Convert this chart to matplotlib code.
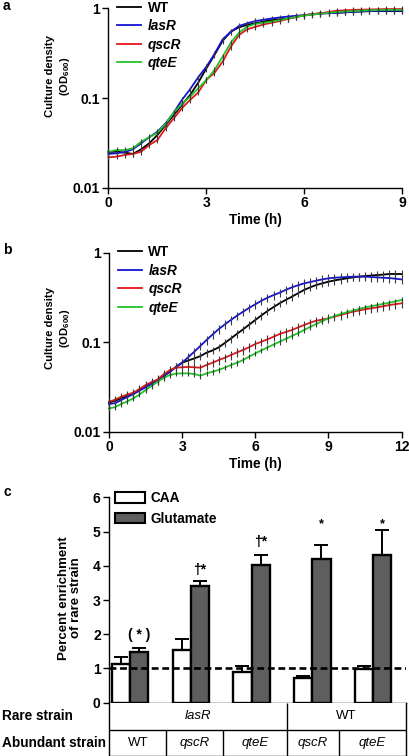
import numpy as np
import matplotlib
matplotlib.use("Agg")
import matplotlib.pyplot as plt
from matplotlib.lines import Line2D
from matplotlib.patches import Patch
from matplotlib.ticker import NullLocator

plt.rcParams["font.family"] = ["Liberation Sans", "DejaVu Sans"]
plt.rcParams["font.weight"] = "bold"
plt.rcParams["axes.labelweight"] = "bold"
plt.rcParams["mathtext.fontset"] = "custom"
plt.rcParams["mathtext.rm"] = "Liberation Sans"
plt.rcParams["mathtext.bf"] = "Liberation Sans:bold"

# ---------------- panel a: growth in CAA (every 15 min, 0-9 h) ----------------
t_a = np.arange(0, 9.01, 0.25)
a_WT = [0.0250, 0.0252, 0.0246, 0.0238, 0.0268, 0.0313, 0.0387, 0.050, 0.0646, 0.0836,
        0.108, 0.148, 0.214, 0.302, 0.435, 0.548, 0.614, 0.652, 0.68, 0.71, 0.74, 0.755,
        0.77, 0.80, 0.835, 0.86, 0.88, 0.885, 0.89, 0.905, 0.92, 0.925, 0.93, 0.93, 0.93,
        0.93, 0.93]
a_lasR = [0.0238, 0.0242, 0.0250, 0.0268, 0.0313, 0.0365, 0.0421, 0.0522, 0.0686, 0.095,
          0.125, 0.170, 0.223, 0.31, 0.45, 0.548, 0.635, 0.68, 0.72, 0.745, 0.77, 0.79,
          0.81, 0.825, 0.84, 0.855, 0.87, 0.88, 0.89, 0.90, 0.91, 0.92, 0.93, 0.935, 0.94,
          0.94, 0.94]
a_qscR = [0.0218, 0.0222, 0.0232, 0.0238, 0.0252, 0.0299, 0.0340, 0.0459, 0.0593, 0.0768,
          0.095, 0.115, 0.159, 0.191, 0.254, 0.373, 0.504, 0.583, 0.62, 0.66, 0.69, 0.72,
          0.76, 0.80, 0.835, 0.86, 0.88, 0.91, 0.94, 0.95, 0.96, 0.965, 0.97, 0.975, 0.98,
          0.98, 0.98]
a_qteE = [0.0252, 0.0263, 0.0263, 0.0275, 0.0326, 0.0365, 0.0410, 0.0513, 0.0686, 0.0857,
          0.103, 0.128, 0.159, 0.205, 0.289, 0.414, 0.535, 0.624, 0.67, 0.69, 0.71, 0.74,
          0.77, 0.80, 0.83, 0.85, 0.87, 0.89, 0.91, 0.92, 0.93, 0.94, 0.95, 0.955, 0.96,
          0.96, 0.96]
a_relerr = [0.08, 0.07, 0.07, 0.08]      # WT, lasR, qscR, qteE (fraction of OD)

# ---------------- panel b: growth in glutamate (every 15 min, 0-12 h) ----------------
t_b = np.arange(0, 12.01, 0.25)
b_WT = [0.0211, 0.0222, 0.0236, 0.025, 0.0264, 0.029, 0.0318, 0.0346, 0.0378, 0.042,
        0.0468, 0.053, 0.059, 0.0625, 0.0659, 0.070, 0.0763, 0.081, 0.0875, 0.098, 0.110,
        0.124, 0.139, 0.157, 0.177, 0.199, 0.223, 0.247, 0.272, 0.297, 0.322, 0.352, 0.383,
        0.41, 0.435, 0.455, 0.474, 0.49, 0.503, 0.517, 0.530, 0.54, 0.548, 0.556, 0.563,
        0.57, 0.578, 0.578, 0.578]
b_lasR = [0.0204, 0.0208, 0.0226, 0.0244, 0.0264, 0.0288, 0.0313, 0.0344, 0.0378, 0.042,
          0.0468, 0.053, 0.059, 0.068, 0.0783, 0.091, 0.1057, 0.122, 0.140, 0.158, 0.177,
          0.198, 0.219, 0.242, 0.265, 0.29, 0.314, 0.336, 0.357, 0.384, 0.410, 0.432, 0.454,
          0.47, 0.487, 0.503, 0.517, 0.525, 0.530, 0.535, 0.539, 0.54, 0.539, 0.535, 0.530,
          0.525, 0.521, 0.512, 0.503]
b_qscR = [0.0216, 0.0228, 0.0246, 0.026, 0.0273, 0.030, 0.0332, 0.036, 0.0384, 0.044,
          0.0489, 0.052, 0.0524, 0.053, 0.0524, 0.0519, 0.0556, 0.059, 0.0632, 0.067, 0.0719,
          0.077, 0.0818, 0.088, 0.0954, 0.101, 0.1076, 0.115, 0.1234, 0.13, 0.1367, 0.146,
          0.1555, 0.165, 0.174, 0.179, 0.1846, 0.193, 0.201, 0.21, 0.219, 0.226, 0.233, 0.239,
          0.245, 0.252, 0.260, 0.266, 0.272]
b_qteE = [0.0182, 0.0188, 0.0204, 0.0218, 0.0236, 0.026, 0.0292, 0.0325, 0.0362, 0.040,
          0.0430, 0.0445, 0.0449, 0.0448, 0.0441, 0.0422, 0.0449, 0.0468, 0.0489, 0.052,
          0.0556, 0.059, 0.0632, 0.069, 0.075, 0.081, 0.0875, 0.094, 0.1013, 0.109, 0.117,
          0.126, 0.1367, 0.148, 0.1596, 0.172, 0.1846, 0.196, 0.2064, 0.216, 0.225, 0.235,
          0.245, 0.252, 0.260, 0.268, 0.276, 0.286, 0.296]
b_relerr = [0.10, 0.11, 0.11, 0.07]

STRAINS = ["WT", "lasR", "qscR", "qteE"]
COLORS = ["black", "#1414d6", "#e3161c", "#22c426"]

# ---------------- panel c: competition enrichment ----------------
rare = ["lasR", "WT"]
rare_span = [3, 2]                      # how many pairings each rare strain covers
abundant = ["WT", "qscR", "qteE", "qscR", "qteE"]
caa = [1.14, 1.54, 0.91, 0.72, 0.98]
caa_err = [0.19, 0.31, 0.16, 0.07, 0.10]
glu = [1.49, 3.42, 4.01, 4.20, 4.30]
glu_err = [0.11, 0.14, 0.29, 0.42, 0.74]
marks = ["( * )", "†*", "†*", "*", "*"]
mark_y = [1.98, 3.88, 4.68, 5.22, 5.22]

W, H = 409, 756


def box(l, t, r, b):
    return [l / W, 1 - b / H, (r - l) / W, (b - t) / H]


def style(ax):
    for s in ("top", "right"):
        ax.spines[s].set_visible(False)
    for s in ("left", "bottom"):
        ax.spines[s].set_linewidth(1.0)
    ax.tick_params(direction="out", length=4, width=1.0, labelsize=10, pad=2)


def growth(ax, t, series, relerr, xmax, xticks, ly):
    for v, c, e in zip(series, COLORS, relerr):
        v = np.asarray(v)
        ax.plot(t, v, color=c, lw=1.3, zorder=2, clip_on=False)
        ax.errorbar(t, v, yerr=v * e, fmt="none", ecolor="#3a3a3a", elinewidth=0.8,
                    zorder=3, clip_on=False)
    ax.set_yscale("log")
    ax.set_ylim(0.01, 1)
    ax.set_xlim(0, xmax)
    ax.set_yticks([0.01, 0.1, 1])
    ax.set_yticklabels(["0.01", "0.1", "1"])
    ax.yaxis.set_minor_locator(NullLocator())
    ax.set_xticks(xticks)
    ax.set_xlabel("Time (h)", fontsize=9.8, labelpad=2)
    ax.set_ylabel("Culture density\n(OD$_{\\mathbf{600}}$)", fontsize=8.1, linespacing=1.3)
    ax.yaxis.set_label_coords(-0.125, ly)
    style(ax)
    handles = [Line2D([], [], color=c, lw=1.3) for c in COLORS]
    leg = ax.legend(handles, STRAINS, loc="upper left", bbox_to_anchor=(0.03, 1.042),
                    frameon=False, fontsize=9.8, handlelength=1.75, handletextpad=0.5,
                    labelspacing=0.33, borderpad=0, borderaxespad=0)
    for txt in leg.get_texts()[1:]:
        txt.set_style("italic")


fig = plt.figure(figsize=(W / 100, H / 100), dpi=100)

ax_a = fig.add_axes(box(108.5, 8.3, 402, 187.7))
growth(ax_a, t_a, [a_WT, a_lasR, a_qscR, a_qteE], a_relerr, 9, [0, 3, 6, 9], 0.62)

ax_b = fig.add_axes(box(109, 252.7, 401.5, 431.7))
growth(ax_b, t_b, [b_WT, b_lasR, b_qscR, b_qteE], b_relerr, 12, [0, 3, 6, 9, 12], 0.58)

# ---- panel c bars
ax_c = fig.add_axes(box(109, 497.3, 406, 702.7))
x = np.arange(len(abundant))
bw = 0.3
ax_c.bar(x - bw / 2, caa, bw, color="white", edgecolor="black", lw=1.7, zorder=2,
         yerr=[np.zeros(len(caa)), caa_err],
         error_kw=dict(ecolor="black", elinewidth=1.4, capsize=5, capthick=1.4))
ax_c.bar(x + bw / 2, glu, bw, color="#5e5e5e", edgecolor="black", lw=1.7, zorder=2,
         yerr=[np.zeros(len(glu)), glu_err],
         error_kw=dict(ecolor="black", elinewidth=1.4, capsize=5, capthick=1.4))
ax_c.axhline(1, color="black", lw=1.9, ls=(0, (2.6, 1.4)), zorder=4)
for xi, m, my in zip(x, marks, mark_y):
    ax_c.text(xi + bw / 2, my, m, ha="center", va="center",
              fontsize=10 if m != "*" else 9)
xl, xr = -0.345, 4.54
ax_c.set_xlim(xl, xr)
ax_c.set_ylim(0, 6)
ax_c.set_yticks(range(7))
ax_c.set_xticks([])
style(ax_c)
ax_c.set_ylabel("Percent enrichment\nof rare strain", fontsize=9.5, linespacing=1.05)
ax_c.yaxis.set_label_coords(-0.09, 0.51)
leg = ax_c.legend([Patch(facecolor="white", edgecolor="black", lw=1.5),
                   Patch(facecolor="#5e5e5e", edgecolor="black", lw=1.5)],
                  ["CAA", "Glutamate"], loc="upper left", bbox_to_anchor=(0.02, 1.03),
                  frameon=False, fontsize=9.8, handlelength=2.2, handleheight=0.8,
                  handletextpad=0.4, labelspacing=0.5, borderpad=0, borderaxespad=0)

# ---- table under panel c
ax_t = fig.add_axes(box(109, 702.7, 406, 755.5))
ax_t.set_xlim(xl, xr)
ax_t.set_ylim(0, 1)
ax_t.set_xticks([])
ax_t.set_yticks([])
ax_t.spines["top"].set_visible(False)
for s in ("left", "right", "bottom"):
    ax_t.spines[s].set_linewidth(1.0)
mid = 0.483
ax_t.axhline(mid, color="black", lw=1.0)
sep = [xl, 0.6, 1.53, 2.58, 3.43, xr]       # cell borders of the abundant row
ax_t.vlines(sep[3], 0, 1, color="black", lw=1.0)
ax_t.vlines([sep[1], sep[2], sep[4]], 0, mid, color="black", lw=1.0)
start = 0
for name, span in zip(rare, rare_span):
    cx = (sep[start] + sep[start + span]) / 2
    ax_t.text(cx, (1 + mid) / 2, name, ha="center", va="center", fontsize=9.5,
              fontweight="normal", style="normal" if name == "WT" else "italic")
    start += span
for i, name in enumerate(abundant):
    cx = (sep[i] + sep[i + 1]) / 2
    ax_t.text(cx, mid / 2, name, ha="center", va="center", fontsize=9.5,
              fontweight="normal", style="normal" if name == "WT" else "italic")
fig.text(2 / W, 1 - 716.5 / H, "Rare strain", ha="left", va="center", fontsize=9.8)
fig.text(2 / W, 1 - 743 / H, "Abundant strain", ha="left", va="center", fontsize=9.8)

# panel letters
for lab, yy in (("a", 6), ("b", 250), ("c", 492)):
    fig.text(3 / W, 1 - yy / H, lab, ha="left", va="center", fontsize=10)

fig.savefig("out.png", dpi=100)
